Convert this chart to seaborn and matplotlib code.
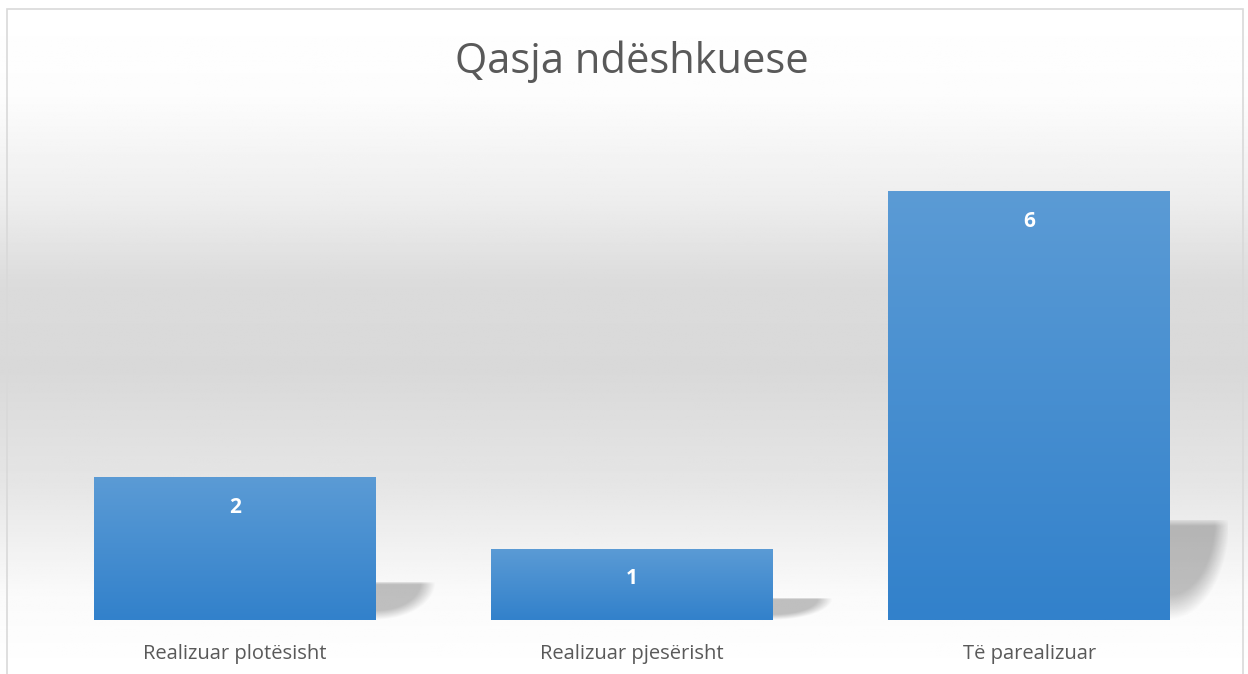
import numpy as np
import pandas as pd
import matplotlib
matplotlib.use("Agg")
import matplotlib.pyplot as plt
import seaborn as sns
from matplotlib.patches import Rectangle, Polygon

# te dhenat
kategorite = ["Realizuar plotësisht", "Realizuar pjesërisht", "Të parealizuar"]
vlerat = [2, 1, 6]
titulli = "Qasja ndëshkuese"

df = pd.DataFrame({"kategoria": kategorite, "vlera": vlerat})

sns.set_theme(style="white")
plt.rcParams["font.family"] = ["Open Sans", "DejaVu Sans"]

fig = plt.figure(figsize=(12.48, 6.74), dpi=100)

# sfondi me gradient (bardhe - gri - bardhe)
bg = fig.add_axes([0, 0, 1, 1], zorder=-5)
yy = np.linspace(0, 1, 400)  # 0 = lart
stops_y = [0.0, 0.14, 0.30, 0.42, 0.55, 0.72, 0.88, 1.0]
stops_v = [1.0, 0.99, 0.93, 0.86, 0.85, 0.90, 0.98, 1.0]
vals = np.interp(yy, stops_y, stops_v)
img = np.repeat(vals[:, None], 10, axis=1)
bg.imshow(img, cmap="gray", vmin=0, vmax=1, aspect="auto", extent=[0, 1, 0, 1])
bg.set_xlim(0, 1)
bg.set_ylim(0, 1)
bg.axis("off")
# korniza
bg.add_patch(Rectangle((7 / 1248, -0.1), (1243 - 7) / 1248, 1.1 - 9 / 674,
                       fill=False, edgecolor="#D9D9D9", lw=1.2, transform=bg.transAxes))

ax = fig.add_axes([36.5 / 1248, 54 / 674, (1228 - 36.5) / 1248, 500 / 674])
ax.patch.set_alpha(0)
sns.barplot(data=df, x="kategoria", y="vlera", color="#4A90D4", width=0.71,
            saturation=1, linewidth=0, ax=ax, zorder=3)
ax.set_xlim(-0.5, 2.5)
ax.set_ylim(0, 7)

top_c = np.array([91, 155, 213]) / 255
bot_c = np.array([50, 129, 203]) / 255
grad = np.linspace(0, 1, 200)[:, None]
grad_img = (top_c[None, None, :] * (1 - grad[:, :, None]) + bot_c[None, None, :] * grad[:, :, None])
grad_img = np.repeat(grad_img, 2, axis=1)

for p, v in zip(ax.patches, vlerat):
    p.set_linewidth(0)
    x0 = p.get_x()
    w = p.get_width()
    h = p.get_height()
    # hija
    xr = x0 + w
    hs = min(h * 0.26, 1.4)
    hs = max(hs, 0.3)
    ext = 0.15
    n = 120
    gx = np.linspace(0, 1, n)[None, :]
    gy = np.linspace(0, 1, n)[:, None]  # 0 = lart
    r = np.sqrt(gx ** 2 + gy ** 2)
    a = np.clip((1.0 - r) / 0.25, 0, 1)
    a = a * np.clip(gy / 0.08 + 0.3, 0, 1)
    sh = np.zeros((n, n, 4))
    sh[..., 3] = 0.24 * a
    ax.imshow(sh, extent=[xr, xr + ext, 0, hs], aspect="auto", zorder=2,
              interpolation="bilinear")
    # gradienti i shtyllës
    bar_im = ax.imshow(grad_img, extent=[x0, x0 + w, 0, h], aspect="auto", zorder=4)
    bar_im.set_clip_path(p)
    ax.text(x0 + w / 2, h - 0.42, str(v), ha="center", va="center", color="white",
            fontsize=15, fontweight="bold", zorder=5)

ax.set_xlim(-0.5, 2.5)
ax.set_ylim(0, 7)
ax.set_xlabel("")
ax.set_ylabel("")
ax.set_yticks([])
ax.tick_params(axis="x", length=0, labelsize=14.5, labelcolor="#595959", pad=17)
for s in ax.spines.values():
    s.set_visible(False)

fig.text(632 / 1248, 1 - 62 / 674, titulli, ha="center", va="center",
         fontsize=30, color="#595959")

fig.savefig("out.png", dpi=100)
